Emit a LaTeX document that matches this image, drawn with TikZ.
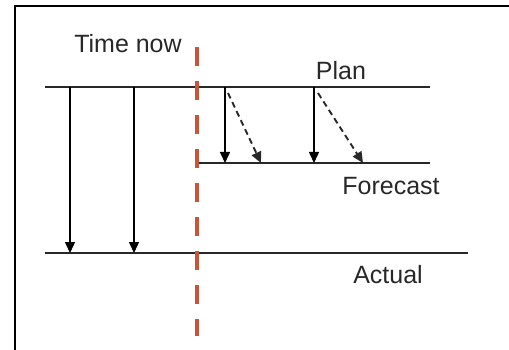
\documentclass[tikz,border=0pt]{standalone}
\usepackage{fontspec}
\setmainfont{Liberation Sans}
\usetikzlibrary{arrows.meta}
\definecolor{nowred}{RGB}{200,85,55}
\definecolor{ink}{RGB}{40,40,40}
\begin{document}
\begin{tikzpicture}[x=1pt,y=-1pt,
  lbl/.style={anchor=base,inner sep=0pt,font=\fontsize{25}{30}\selectfont,text=ink},
  track/.style={draw=ink,line width=2pt},
  drop/.style={draw=black,line width=1.5pt,-{Triangle[length=11pt,width=10pt]}},
  ddrop/.style={draw=ink,line width=1.9pt,dash pattern=on 6pt off 4pt,-{Triangle[length=11pt,width=10pt]}},
  frame/.style={draw=black,line width=2pt},
  nowline/.style={draw=nowred,line width=4pt,dash pattern=on 19pt off 15pt}]
\useasboundingbox (0,0) rectangle (509,350);
% frame (left and top edges only)
\coordinate (fb) at (15,351);
\coordinate (ft) at (15,6);
\coordinate (fr) at (510,6);
\draw[frame] (fb) -- (ft) -- (fr);
% tracks
\coordinate (p0) at (45,87);
\coordinate (p1) at (430,87);
\coordinate (f0) at (197,163);
\coordinate (f1) at (430,163);
\coordinate (a0) at (45,253);
\coordinate (a1) at (468,253);
\draw[track] (p0) -- (p1);
\draw[track] (f0) -- (f1);
\draw[track] (a0) -- (a1);
% arrows past
\coordinate (s1) at (70,87);   \coordinate (e1) at (70,253);
\coordinate (s2) at (134,87);  \coordinate (e2) at (134,253);
\draw[drop] (s1) -- (e1);
\draw[drop] (s2) -- (e2);
% arrows future
\coordinate (s3) at (225,87);  \coordinate (e3) at (225,163);
\coordinate (s4) at (314,87);  \coordinate (e4) at (314,163);
\draw[drop] (s3) -- (e3);
\draw[drop] (s4) -- (e4);
\coordinate (d3) at (228,93);  \coordinate (g3) at (261,163);
\coordinate (d4) at (318,93);  \coordinate (g4) at (363,163);
\draw[ddrop] (d3) -- (g3);
\draw[ddrop] (d4) -- (g4);
% time now line
\coordinate (n0) at (197,47);
\coordinate (n1) at (197,336);
\draw[nowline] (n0) -- (n1);
% labels
\node[lbl] (tnow) at (128,53) {Time now};
\node[lbl] (plan) at (341,80) {Plan};
\node[lbl] (fc) at (391,194) {Forecast};
\node[lbl] (act) at (388,283) {Actual};
\end{tikzpicture}
\end{document}
